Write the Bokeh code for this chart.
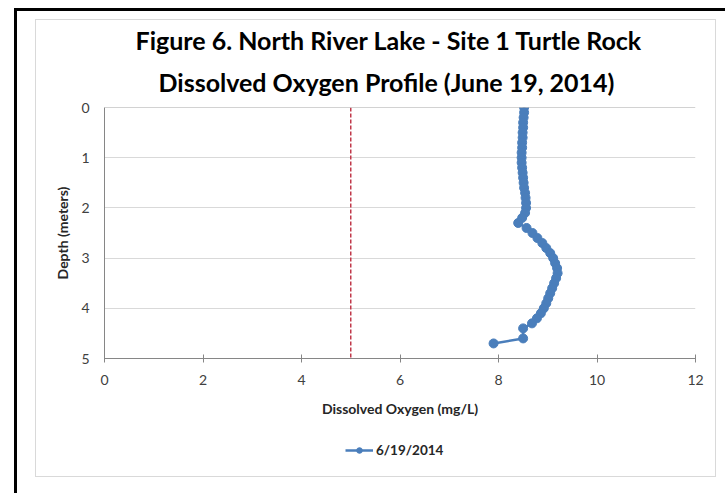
from bokeh.plotting import figure
from bokeh.layouts import column
from bokeh.models import Range1d, Legend, LegendItem, Title, Span, FixedTicker
from bokeh.embed import file_html
from bokeh.resources import INLINE

# ---- data ----
depth_m = [0.0, 0.1, 0.2, 0.3, 0.4, 0.5, 0.6, 0.7, 0.8, 0.9,
           1.0, 1.1, 1.2, 1.3, 1.4, 1.5, 1.6, 1.7, 1.8, 1.9,
           2.0, 2.1, 2.2, 2.3, 2.4, 2.5, 2.6, 2.7, 2.8, 2.9,
           3.0, 3.1, 3.2, 3.3, 3.4, 3.5, 3.6, 3.7, 3.8, 3.9,
           4.0, 4.1, 4.2, 4.3, 4.4, 4.6, 4.7]
do_mgl = [8.52, 8.52, 8.51, 8.50, 8.50, 8.49, 8.49, 8.48, 8.48, 8.47,
          8.47, 8.47, 8.48, 8.49, 8.50, 8.51, 8.52, 8.54, 8.55, 8.56,
          8.56, 8.54, 8.48, 8.40, 8.57, 8.69, 8.79, 8.89, 8.97, 9.05,
          9.11, 9.15, 9.19, 9.20, 9.17, 9.13, 9.09, 9.05, 9.01, 8.97,
          8.92, 8.86, 8.78, 8.68, 8.50, 8.50, 7.90]
threshold_x = [5, 5]
threshold_y = [0, 5]
x_ticks = [0, 2, 4, 6, 8, 10, 12]
y_ticks = [0, 1, 2, 3, 4, 5]
series_label = "6/19/2014"
title_line1 = "Figure 6. North River Lake - Site 1 Turtle Rock"
title_line2 = "Dissolved Oxygen Profile (June 19, 2014)"
x_label = "Dissolved Oxygen (mg/L)"
y_label = "Depth (meters)"

FONT = "Lato"
BLUE = "#4a7ebb"

p = figure(width=679, height=414, output_backend="svg", toolbar_location=None,
           x_range=Range1d(0, 12), y_range=Range1d(5, 0),
           min_border_left=68, min_border_right=20,
           min_border_top=87, min_border_bottom=76)
p.background_fill_color = "white"
p.border_fill_color = "white"
p.outline_line_color = None

# titles (added nearest-first)
p.add_layout(Title(text=title_line2, align="left", offset=54, standoff=21,
                   text_font=FONT, text_font_size="25px", text_font_style="bold",
                   text_line_height=0.95, text_color="#000000"), "above")
p.add_layout(Title(text=title_line1, align="left", offset=31, standoff=0,
                   text_font=FONT, text_font_size="25px", text_font_style="bold",
                   text_line_height=0.95, text_color="#000000"), "above")

# axes
p.xaxis.ticker = FixedTicker(ticks=x_ticks)
p.yaxis.ticker = FixedTicker(ticks=y_ticks)
for ax in (p.xaxis[0], p.yaxis[0]):
    ax.axis_line_color = "#868686"
    ax.axis_line_width = 1
    ax.minor_tick_line_color = None
    ax.major_label_text_font = FONT
    ax.major_label_text_font_size = "14px"
    ax.major_label_text_color = "#404040"
    ax.axis_label_text_font = FONT
    ax.axis_label_text_font_size = "14px"
    ax.axis_label_text_font_style = "bold"
    ax.axis_label_text_color = "#262626"
p.xaxis.axis_label = x_label
p.yaxis.axis_label = y_label
p.xaxis.major_tick_line_color = "#868686"
p.xaxis.major_tick_in = 4
p.xaxis.major_tick_out = 4
p.xaxis.major_label_standoff = 12
p.xaxis.axis_label_standoff = 12
p.yaxis.major_tick_line_color = None
p.yaxis.major_label_standoff = 9
p.yaxis.axis_label_standoff = 7

p.xgrid.visible = False
p.ygrid.grid_line_color = "#d9d9d9"
p.ygrid.grid_line_width = 1
p.add_layout(Span(location=0, dimension="width", line_color="#a6a6a6", line_width=1))

# threshold line
p.line(threshold_x, threshold_y, line_color="#c0394a", line_width=1.5, line_dash="4 2")

# series
p.line(do_mgl, depth_m, line_color=BLUE, line_width=2.5)
p.scatter(do_mgl, depth_m, size=9, fill_color=BLUE, line_color=BLUE)

# legend strip (same series styling; data lies outside this strip's ranges)
p2 = figure(width=679, height=42, output_backend="svg", toolbar_location=None,
            x_range=Range1d(0, 1), y_range=Range1d(0, 1), min_border=0)
p2.axis.visible = False
p2.grid.visible = False
p2.outline_line_color = None
p2.background_fill_color = "white"
p2.border_fill_color = "white"
lr = p2.line(do_mgl, depth_m, line_color=BLUE, line_width=2.5)
sr = p2.scatter(do_mgl, depth_m, size=9, fill_color=BLUE, line_color=BLUE)
legend = Legend(items=[LegendItem(label=series_label, renderers=[lr, sr])],
                location=(241, 18), orientation="horizontal",
                border_line_color=None, background_fill_alpha=0,
                label_text_font=FONT, label_text_font_size="13.5px",
                label_text_font_style="bold", label_text_color="#262626",
                glyph_width=28, glyph_height=14, label_standoff=3,
                padding=4, margin=0)
p2.add_layout(legend, "center")

layout = column(p, p2, spacing=0, margin=(20, 0, 0, 36),
                styles={"box-shadow": "0 0 0 1px #d9d9d9, 1px 11px 0 20px white, -2px 8px 0 20px black"})

open("out.html", "w").write(file_html(layout, INLINE))
